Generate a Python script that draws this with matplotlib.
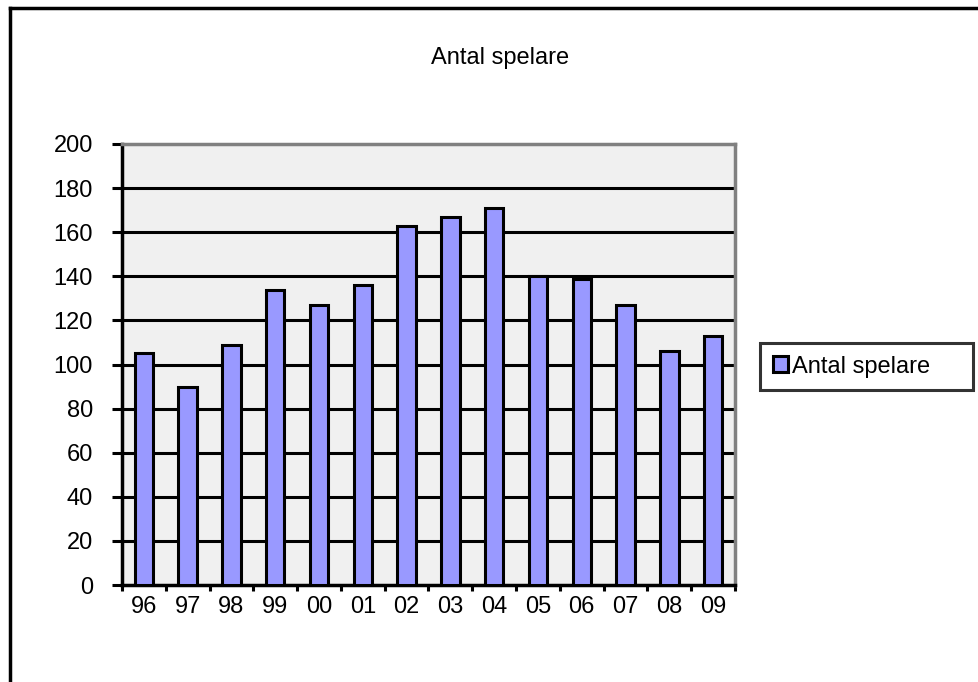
import matplotlib
matplotlib.use("Agg")
import matplotlib.pyplot as plt
from matplotlib.patches import Patch
from matplotlib.lines import Line2D
import numpy as np

plt.rcParams['font.family'] = ['Liberation Sans', 'DejaVu Sans']

title = "Antal spelare"
series_name = "Antal spelare"
years = ["96", "97", "98", "99", "00", "01", "02", "03", "04", "05", "06", "07", "08", "09"]
values = [105, 90, 109, 134, 127, 136, 163, 167, 171, 140, 139, 127, 106, 113]
yticks = [0, 20, 40, 60, 80, 100, 120, 140, 160, 180, 200]

FS = 17

W, H = 979, 682
fig = plt.figure(figsize=(W / 100, H / 100), dpi=100)
fig.patch.set_facecolor('white')

ax = fig.add_axes([122 / W, 1 - 585 / H, (735 - 122) / W, (585 - 144) / H])
ax.set_facecolor('#F0F0F0')

x = np.arange(len(years))
ax.bar(x, values, width=0.42, color='#9999FF', edgecolor='black', linewidth=2.2, zorder=3,
       label=series_name)

ax.set_xlim(-0.5, len(years) - 0.5)
ax.set_ylim(0, 200)

for v in yticks[1:-1]:
    ax.axhline(v, color='black', linewidth=2.2, zorder=1)

ax.set_yticks(yticks)
ax.set_yticklabels([str(v) for v in yticks], fontsize=FS)
ax.tick_params(axis='y', length=7, width=2.2, pad=14, direction='out')

ax.set_xticks(x)
ax.set_xticklabels(years, fontsize=FS)
ax.tick_params(axis='x', which='major', length=0, pad=8)
ax.set_xticks(np.arange(-0.5, len(years), 1.0), minor=True)
ax.tick_params(axis='x', which='minor', length=4, width=2.2, direction='out')

ax.spines['left'].set_color('black')
ax.spines['left'].set_linewidth(2.5)
ax.spines['bottom'].set_color('black')
ax.spines['bottom'].set_linewidth(2.5)
ax.spines['top'].set_color('#808080')
ax.spines['top'].set_linewidth(2.5)
ax.spines['right'].set_color('#808080')
ax.spines['right'].set_linewidth(2.5)

fig.text(500 / W, 1 - 58 / H, title, ha='center', va='center', fontsize=FS)

handle = Patch(facecolor='#9999FF', edgecolor='black', linewidth=2.2)
leg = fig.legend([handle], [series_name], loc='center left',
                 bbox_to_anchor=(760 / W, 1 - 392 / H, 213 / W, 51 / H), mode='expand',
                 fontsize=FS,
                 frameon=True, fancybox=False, handlelength=0.65, handleheight=0.65,
                 handletextpad=0.15, borderpad=0.55, borderaxespad=0)
leg.get_frame().set_edgecolor('black')
leg.get_frame().set_linewidth(2.2)

# outer frame (left and top)
fig.add_artist(Line2D([10 / W, 10 / W], [0, 1 - 8 / H], transform=fig.transFigure,
                      color='black', linewidth=2.5))
fig.add_artist(Line2D([10 / W, 1], [1 - 8 / H, 1 - 8 / H], transform=fig.transFigure,
                      color='black', linewidth=2.5))

fig.savefig('out.png', dpi=100, facecolor='white')
